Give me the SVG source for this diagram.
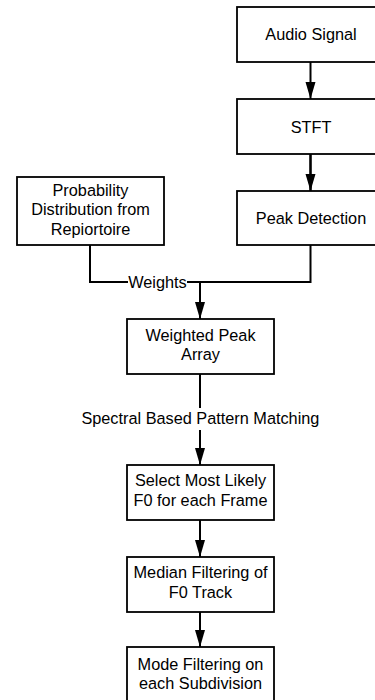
<svg xmlns="http://www.w3.org/2000/svg" width="375" height="700" viewBox="0 0 375 700">
<style>
.box{fill:#fff;stroke:#000;stroke-width:1.8}
.t{font-family:"Liberation Sans",Arial,sans-serif;font-size:16.3px;fill:#000;text-anchor:middle}
.c{fill:none;stroke:#000;stroke-width:2}
</style>
<defs>
<marker id="ah" markerUnits="userSpaceOnUse" markerWidth="18" markerHeight="11" refX="17" refY="5" orient="auto">
<path d="M0,0 L17,5 L0,10 z" fill="#000"/>
</marker>
</defs>
<rect width="375" height="700" fill="#fff"/>
<g id="connectors">
<line class="c" x1="310.5" y1="62" x2="310.5" y2="99" marker-end="url(#ah)"/>
<line class="c" x1="310.5" y1="154" x2="310.5" y2="191" marker-end="url(#ah)" style="stroke-width:2.6"/>
<path class="c" d="M90,245 V282 H310.5 V245"/>
<rect x="128" y="273" width="59" height="18" fill="#fff"/>
<text class="t" x="157.5" y="287.7">Weights</text>
<line class="c" x1="200" y1="282" x2="200" y2="319" marker-end="url(#ah)"/>
<line class="c" x1="200" y1="374" x2="200" y2="408"/>
<line class="c" x1="200" y1="430" x2="200" y2="465" marker-end="url(#ah)"/>
<text class="t" x="200.4" y="423.5">Spectral Based Pattern Matching</text>
<line class="c" x1="200" y1="520" x2="200" y2="557" marker-end="url(#ah)"/>
<line class="c" x1="200" y1="612" x2="200" y2="647" marker-end="url(#ah)"/>
</g>
<g id="audio"><rect class="box" x="237" y="7" width="148" height="55"/><text class="t" x="311" y="40">Audio Signal</text></g>
<g id="stft"><rect class="box" x="237" y="99" width="148" height="55"/><text class="t" x="311" y="132.5">STFT</text></g>
<g id="peak"><rect class="box" x="237" y="191" width="148" height="54"/><text class="t" x="311" y="223.5">Peak Detection</text></g>
<g id="prob"><rect class="box" x="17" y="177" width="147" height="68"/>
<text class="t" x="90.5" y="195.7">Probability</text>
<text class="t" x="90.5" y="215.4">Distribution from</text>
<text class="t" x="90.5" y="235">Repiortoire</text></g>
<g id="wpa"><rect class="box" x="127" y="319" width="147" height="55"/>
<text class="t" x="200.5" y="340.7">Weighted Peak</text>
<text class="t" x="200.5" y="360">Array</text></g>
<g id="select"><rect class="box" x="127" y="465" width="147" height="55"/>
<text class="t" x="200.5" y="486.4">Select Most Likely</text>
<text class="t" x="200.5" y="505.7">F0 for each Frame</text></g>
<g id="median"><rect class="box" x="127" y="557" width="147" height="55"/>
<text class="t" x="200.5" y="578.4">Median Filtering of</text>
<text class="t" x="200.5" y="597.7">F0 Track</text></g>
<g id="mode"><rect class="box" x="127" y="647" width="147" height="56"/>
<text class="t" x="200.5" y="669.7">Mode Filtering on</text>
<text class="t" x="200.5" y="689">each Subdivision</text></g>
</svg>
